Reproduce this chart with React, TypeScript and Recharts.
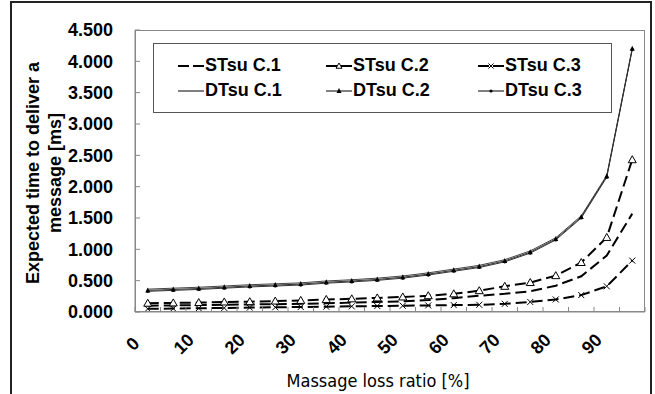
import React from 'react';
import { LineChart, Line, XAxis, YAxis } from 'recharts';

// message loss ratio [%] on the x axis
const lossRatio = [0, 5, 10, 15, 20, 25, 30, 35, 40, 45, 50, 55, 60, 65, 70, 75, 80, 85, 90, 95];

// expected time to deliver a message [ms]
const stsuC1 = [0.1, 0.105, 0.11, 0.115, 0.12, 0.125, 0.13, 0.14, 0.15, 0.16, 0.17, 0.19, 0.22, 0.26, 0.29, 0.33, 0.42, 0.57, 0.9, 1.57];
const stsuC2 = [0.14, 0.145, 0.15, 0.16, 0.165, 0.175, 0.185, 0.2, 0.21, 0.225, 0.24, 0.26, 0.29, 0.34, 0.41, 0.47, 0.58, 0.79, 1.19, 2.43];
const stsuC3 = [0.05, 0.055, 0.06, 0.065, 0.07, 0.075, 0.08, 0.085, 0.09, 0.095, 0.1, 0.105, 0.11, 0.115, 0.13, 0.16, 0.2, 0.27, 0.41, 0.82];
const dtsuC1 = [0.365, 0.38, 0.395, 0.415, 0.435, 0.45, 0.465, 0.495, 0.515, 0.54, 0.575, 0.625, 0.685, 0.745, 0.835, 0.975, 1.185, 1.535, 2.18, 4.21];
const dtsuC2 = [0.345, 0.36, 0.375, 0.395, 0.415, 0.43, 0.445, 0.475, 0.495, 0.52, 0.555, 0.605, 0.665, 0.725, 0.815, 0.955, 1.165, 1.515, 2.165, 4.2];
const dtsuC3 = [0.33, 0.345, 0.36, 0.38, 0.4, 0.415, 0.43, 0.46, 0.48, 0.505, 0.54, 0.59, 0.65, 0.71, 0.8, 0.94, 1.15, 1.5, 2.15, 4.19];

const yTicks = [0, 0.5, 1, 1.5, 2, 2.5, 3, 3.5, 4, 4.5];
const xLabelEvery = 10;

const data = lossRatio.map((r, i) => ({
  ratio: r,
  stsuC1: stsuC1[i],
  stsuC2: stsuC2[i],
  stsuC3: stsuC3[i],
  dtsuC1: dtsuC1[i],
  dtsuC2: dtsuC2[i],
  dtsuC3: dtsuC3[i],
}));

const FONT = '"Liberation Sans", Arial, sans-serif';
const NARROW = '"Liberation Sans Narrow", "DejaVu Sans Condensed", "Liberation Sans", Arial, sans-serif';
const DASH = '11 5';
const HALF_BAND = 12.75;

const OpenTriangle = ({ cx, cy, size = 4 }: any) =>
  cx == null ? null : (
    <path
      d={`M${cx},${cy - size} L${cx + size},${cy + size * 0.75} L${cx - size},${cy + size * 0.75} Z`}
      fill="#fff"
      stroke="#000"
      strokeWidth={1}
      strokeDasharray="none"
    />
  );

const Cross = ({ cx, cy, size = 3 }: any) =>
  cx == null ? null : (
    <path
      d={`M${cx - size},${cy - size} L${cx + size},${cy + size} M${cx + size},${cy - size} L${cx - size},${cy + size}`}
      stroke="#000"
      strokeWidth={1}
      strokeDasharray="none"
      fill="none"
    />
  );

const SmallTriangle = ({ cx, cy }: any) =>
  cx == null ? null : (
    <path d={`M${cx},${cy - 3} L${cx + 2.5},${cy + 2} L${cx - 2.5},${cy + 2} Z`} fill="#000" stroke="none" />
  );

const SmallDot = ({ cx, cy }: any) =>
  cx == null ? null : <circle cx={cx} cy={cy} r={1.6} fill="#000" stroke="none" />;

const XTick = ({ x, y, payload, index }: any) => {
  const v = payload.value;
  return (
    <g>
      <line x1={x - HALF_BAND} y1={y} x2={x - HALF_BAND} y2={y - 5} stroke="#888" />
      {index === lossRatio.length - 1 && (
        <line x1={x + HALF_BAND} y1={y} x2={x + HALF_BAND} y2={y - 5} stroke="#888" />
      )}
      {v % xLabelEvery === 0 && (
        <text
          transform={`translate(${x - 15},${y + 32}) rotate(-45)`}
          textAnchor="middle"
          dominantBaseline="central"
          fontFamily={FONT}
          fontWeight="bold"
          fontSize={18}
          fill="#000"
        >
          {v}
        </text>
      )}
    </g>
  );
};

const YTitle = () => (
  <text transform="translate(39,173) rotate(-90)" textAnchor="middle" fontFamily={FONT} fontWeight="bold" fontSize={18} fill="#000">
    <tspan x={0} y={0}>Expected time to deliver a</tspan>
    <tspan x={0} y={22}>message [ms]</tspan>
  </text>
);

const XTitle = () => (
  <text x={378} y={387} textAnchor="middle" fontFamily={NARROW} fontSize={18} fill="#000">
    Massage loss ratio [%]
  </text>
);

const legendItems = [
  { name: 'STsu C.1', dashed: true, marker: null },
  { name: 'STsu C.2', dashed: true, marker: 'openTri' },
  { name: 'STsu C.3', dashed: true, marker: 'cross' },
  { name: 'DTsu C.1', dashed: false, marker: null },
  { name: 'DTsu C.2', dashed: false, marker: 'tri' },
  { name: 'DTsu C.3', dashed: false, marker: 'dot' },
];

const LegendSymbol = ({ dashed, marker }: { dashed: boolean; marker: string | null }) => (
  <svg width={26} height={12} style={{ display: 'block' }}>
    <line x1={0} y1={6} x2={26} y2={6} stroke="#000" strokeWidth={dashed ? 2 : 1} strokeDasharray={dashed ? '11 4' : undefined} />
    {marker === 'openTri' && <OpenTriangle cx={13} cy={6} size={3} />}
    {marker === 'cross' && <Cross cx={13} cy={6} size={2.5} />}
    {marker === 'tri' && <SmallTriangle cx={13} cy={6} />}
    {marker === 'dot' && <SmallDot cx={13} cy={6} />}
  </svg>
);

export default function App() {
  return (
    <div style={{ position: 'absolute', left: 0, top: 0, width: 655, height: 394, overflow: 'hidden', background: '#fff' }}>
      <div style={{ position: 'absolute', left: 10, top: 1, width: 638, height: 420, border: '2px solid #222' }} />
      <LineChart width={655} height={394} data={data} margin={{ top: 30, right: 10, bottom: 0, left: 0 }}>
        <XAxis
          dataKey="ratio"
          padding={{ left: HALF_BAND, right: HALF_BAND }}
          interval={0}
          height={82}
          tickSize={0}
          tickMargin={0}
          tickLine={false}
          axisLine={{ stroke: '#888' }}
          tick={<XTick />}
          label={{ content: () => <XTitle /> }}
        />
        <YAxis
          domain={[0, 4.5]}
          ticks={yTicks}
          width={135}
          tickSize={-5}
          tickMargin={27}
          tickLine={{ stroke: '#888' }}
          axisLine={{ stroke: '#888' }}
          tickFormatter={(v: number) => v.toFixed(3)}
          tick={{ fontFamily: FONT, fontWeight: 'bold', fontSize: 18, fill: '#000' }}
          label={{ content: () => <YTitle /> }}
        />
        <Line dataKey="dtsuC1" stroke="#444" strokeWidth={1} dot={false} isAnimationActive={false} />
        <Line dataKey="dtsuC2" stroke="#333" strokeWidth={1} dot={<SmallTriangle />} isAnimationActive={false} />
        <Line dataKey="dtsuC3" stroke="#333" strokeWidth={1} dot={<SmallDot />} isAnimationActive={false} />
        <Line dataKey="stsuC1" stroke="#000" strokeWidth={2} strokeDasharray={DASH} dot={false} isAnimationActive={false} />
        <Line dataKey="stsuC2" stroke="#000" strokeWidth={2} strokeDasharray={DASH} dot={<OpenTriangle />} isAnimationActive={false} />
        <Line dataKey="stsuC3" stroke="#000" strokeWidth={2} strokeDasharray={DASH} dot={<Cross />} isAnimationActive={false} />
      </LineChart>
      <div style={{ position: 'absolute', left: 135, top: 30, width: 510, height: 282, border: '1px solid #888', boxSizing: 'border-box', pointerEvents: 'none' }} />
      <div
        style={{
          position: 'absolute',
          left: 153,
          top: 43,
          width: 459,
          height: 70,
          border: '1px solid #555',
          boxSizing: 'border-box',
          background: '#fff',
          display: 'grid',
          gridTemplateColumns: '148px 152px 150px',
          gridTemplateRows: '25px 25px',
          padding: '9px 0 0 24px',
          fontFamily: FONT,
          fontWeight: 'bold',
          fontSize: 18,
          color: '#000',
        }}
      >
        {legendItems.map((it) => (
          <div key={it.name} style={{ display: 'flex', alignItems: 'center', gap: 1 }}>
            <LegendSymbol dashed={it.dashed} marker={it.marker} />
            <span>{it.name}</span>
          </div>
        ))}
      </div>
    </div>
  );
}
